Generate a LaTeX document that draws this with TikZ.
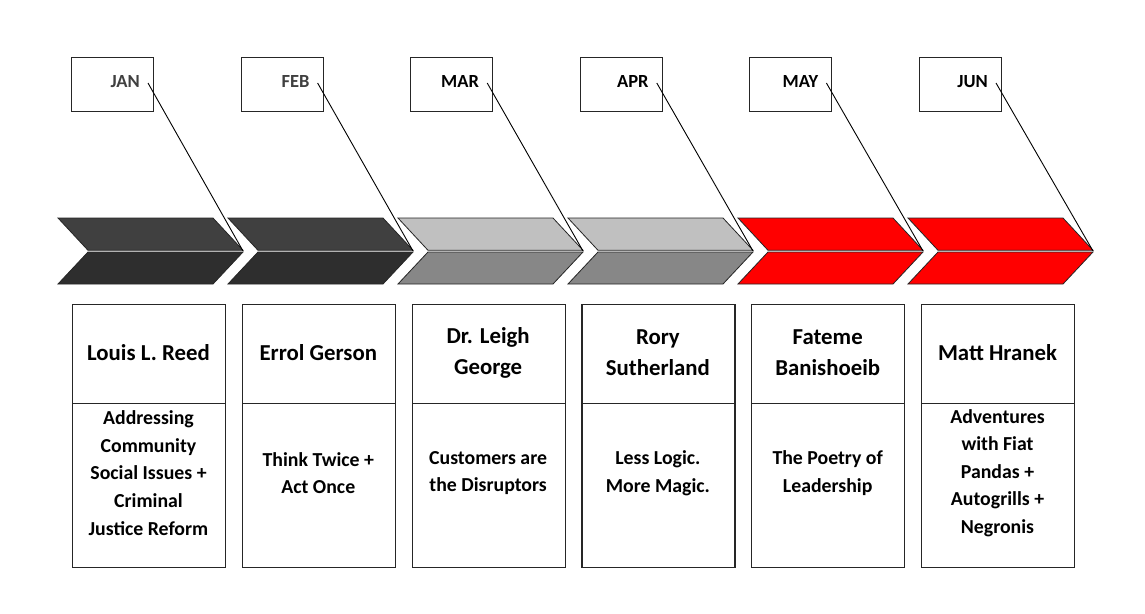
\documentclass[tikz,border=0pt]{standalone}
\usepackage{fontspec}
\setmainfont{Carlito}
\definecolor{dk1}{RGB}{64,64,64}
\definecolor{dk2}{RGB}{46,46,46}
\definecolor{lt1}{RGB}{192,192,192}
\definecolor{lt2}{RGB}{135,135,135}
\definecolor{rd}{RGB}{255,0,0}
\definecolor{mtxtgray}{RGB}{64,64,64}
\begin{document}
\begin{tikzpicture}[x=1pt,y=-1pt,
  monthbox/.style={draw=black!85, line width=1pt, minimum width=82pt, minimum height=54pt,
    inner sep=0pt, anchor=north west},
  monthtext/.style={inner sep=0pt, anchor=east, font=\bfseries\fontsize{18.5}{22}\selectfont},
  namebox/.style={draw=black!85, line width=1.2pt, minimum width=153pt, minimum height=99pt,
    inner sep=0pt, anchor=north west},
  descbox/.style={draw=black!85, line width=1.2pt, minimum width=153pt, minimum height=164pt,
    inner sep=0pt, anchor=north west},
  nametext/.style={align=center, inner sep=0pt, font=\bfseries\fontsize{22.8}{31}\selectfont},
  desctext/.style={align=center, inner sep=0pt, font=\bfseries\fontsize{19.8}{27.6}\selectfont},
  halfshape/.style={draw=black!85, line width=0.8pt, line join=miter},
  leader/.style={draw=black, line width=0.9pt}]
\useasboundingbox (0,0) rectangle (1145,613);
\foreach \i/\mon/\mc/\ca/\cb/\nm/\ds in {
  1/JAN/mtxtgray/dk1/dk2/{Louis L. Reed}/{Addressing\\Community\\Social Issues +\\Criminal\\Justice Reform},
  2/FEB/mtxtgray/dk1/dk2/{Errol Gerson}/{Think Twice +\\Act Once},
  3/MAR/black/lt1/lt2/{Dr. Leigh\\George}/{Customers are\\the Disruptors},
  4/APR/black/lt1/lt2/{Rory\\Sutherland}/{Less Logic.\\More Magic.},
  5/MAY/black/rd/rd/{Fateme\\Banishoeib}/{The Poetry of\\Leadership},
  6/JUN/black/rd/rd/{Matt Hranek}/{Adventures\\with Fiat\\Pandas +\\Autogrills +\\Negronis}} {
  \pgfmathsetmacro{\cx}{58+170*(\i-1)}
  \pgfmathsetmacro{\mx}{71+169.6*(\i-1)}
  \pgfmathsetmacro{\bx}{72+169.8*(\i-1)}
  % chevron halves
  \filldraw[halfshape, fill=\ca] (\cx,218) -- (\cx+155,218) -- (\cx+185,250.3) -- (\cx+30,250.3) -- cycle;
  \filldraw[halfshape, fill=\cb] (\cx+30,252) -- (\cx+185,252) -- (\cx+155,284) -- (\cx,284) -- cycle;
  \coordinate (tip\i) at (\cx+185,251);
  % month box
  \node[monthbox] (m\i) at (\mx,57) {};
  \node[monthtext, text=\mc] (mt\i) at (\mx+69,82) {\mon};
  \coordinate (ls\i) at (\mx+77,83);
  \draw[leader] (ls\i) -- (tip\i);
  % name and description boxes
  \node[namebox] (nb\i) at (\bx,304) {};
  \node[nametext] (nt\i) at (\bx+76.5,353) {\nm};
  \node[descbox] (db\i) at (\bx,403) {};
  \node[desctext] (dt\i) at (\bx+76.5,473) {\ds};
}
\end{tikzpicture}
\end{document}
